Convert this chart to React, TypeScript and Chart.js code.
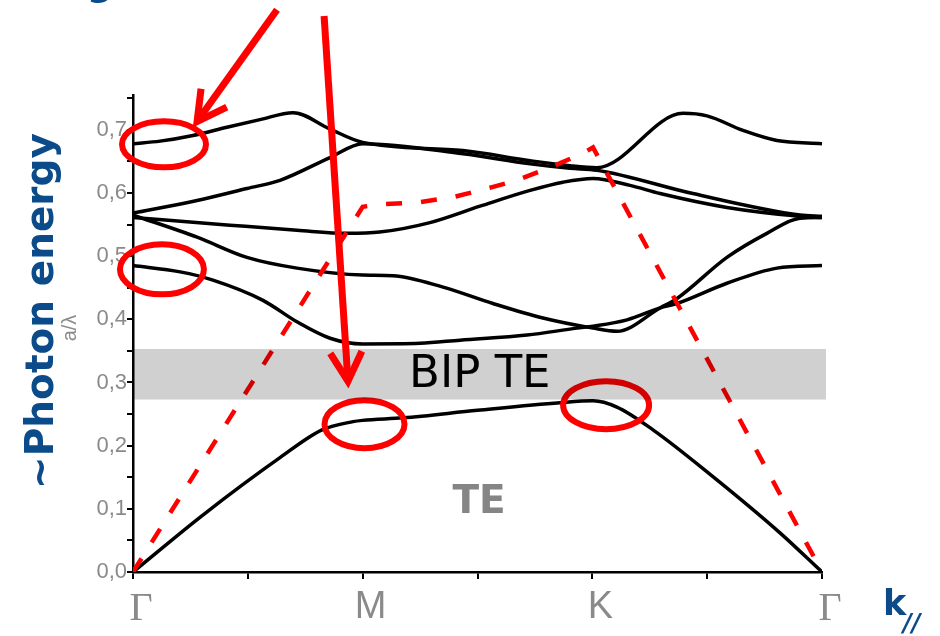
import React, { useEffect, useRef } from 'react';
import { Chart, registerables } from 'chart.js';

Chart.register(...registerables);

// Wave-vector path Γ → M → K → Γ, drawn as three equal segments
const K_TICKS = [0, 0.5, 1, 1.5, 2, 2.5, 3];
const K_LABELS = ['Γ', '', 'M', '', 'K', '', 'Γ'];

// Reduced frequency a/λ
const E_TICKS = [0, 0.05, 0.1, 0.15, 0.2, 0.25, 0.3, 0.35, 0.4, 0.45, 0.5, 0.55, 0.6, 0.65, 0.7, 0.75];
const E_LABELS = ['0,0', '', '0,1', '', '0,2', '', '0,3', '', '0,4', '', '0,5', '', '0,6', '', '0,7', ''];

// TE bands (k position along the path, a/λ)
const band1K = [0, 0.3, 0.64, 0.823, 0.958, 1.0, 1.176, 1.5, 1.859, 2.003, 2.107, 2.264, 2.525, 2.817, 3];
const band1E = [0, 0.089, 0.181, 0.225, 0.238, 0.24, 0.244, 0.256, 0.268, 0.271, 0.261, 0.225, 0.151, 0.062, 0];

const band2K = [0, 0.205, 0.348, 0.566, 0.714, 0.858, 1.0, 1.25, 1.424, 1.716, 1.933, 2.003, 2.151, 2.295, 2.369, 2.586, 2.804, 3];
const band2E = [0.485, 0.475, 0.462, 0.43, 0.396, 0.37, 0.361, 0.362, 0.367, 0.375, 0.386, 0.389, 0.399, 0.418, 0.425, 0.457, 0.481, 0.485];

const band3K = [0, 0.279, 0.496, 0.714, 1.0, 1.132, 1.35, 1.567, 1.785, 2.003, 2.107, 2.295, 2.369, 2.586, 2.76, 2.904, 3];
const band3E = [0.565, 0.53, 0.498, 0.481, 0.47, 0.469, 0.451, 0.425, 0.402, 0.386, 0.381, 0.418, 0.433, 0.498, 0.536, 0.56, 0.561];

const band4K = [0, 0.422, 0.714, 0.932, 1.074, 1.293, 1.511, 1.729, 1.872, 2.003, 2.164, 2.295, 2.586, 2.904, 3];
const band4E = [0.561, 0.549, 0.541, 0.536, 0.538, 0.553, 0.579, 0.604, 0.617, 0.623, 0.612, 0.599, 0.577, 0.563, 0.561];

const band5K = [0, 0.279, 0.496, 0.64, 0.858, 1.0, 1.437, 1.729, 1.903, 2.02, 2.438, 2.904, 3];
const band5E = [0.568, 0.588, 0.607, 0.62, 0.656, 0.678, 0.662, 0.646, 0.639, 0.636, 0.599, 0.565, 0.563];

const band6K = [0, 0.118, 0.261, 0.409, 0.553, 0.697, 0.858, 1.0, 1.437, 1.729, 1.903, 2.02, 2.395, 2.499, 2.656, 2.804, 3];
const band6E = [0.678, 0.682, 0.691, 0.704, 0.716, 0.727, 0.701, 0.68, 0.667, 0.651, 0.643, 0.64, 0.726, 0.722, 0.699, 0.683, 0.678];

// Light line
const lightK = [0, 1, 1.074, 1.24, 1.389, 1.533, 1.672, 1.807, 1.955, 2.003, 3];
const lightE = [0, 0.578, 0.582, 0.585, 0.593, 0.606, 0.62, 0.639, 0.662, 0.672, 0];

// Photonic band gap for TE
const GAP_LOW = 0.273;
const GAP_HIGH = 0.353;

const BLUE = '#0b4b89';
const RED = '#ff0000';
const GREY_TEXT = '#8a8a8a';

// Red highlight rings: centre in (k, a/λ), radii in px
const RINGS = [
  { k: 0.135, e: 0.677, rx: 42, ry: 23 },
  { k: 0.126, e: 0.479, rx: 42, ry: 25 },
  { k: 1.008, e: 0.234, rx: 40, ry: 24 },
  { k: 2.06, e: 0.264, rx: 43, ry: 24 },
];

// Pointer arrows: tail and tip in (k, a/λ)
const ARROWS = [
  { k0: 0.627, e0: 0.89, k1: 0.279, e1: 0.713 },
  { k0: 0.832, e0: 0.88, k1: 0.936, e1: 0.302 },
];

const pts = (ks: number[], es: number[]) => ks.map((k, i) => ({ x: k, y: es[i] }));

const bandStyle = {
  borderColor: '#000',
  borderWidth: 3.5,
  pointRadius: 0,
  cubicInterpolationMode: 'monotone' as const,
  order: 1,
};

const overlay = {
  id: 'bandOverlay',
  afterDatasetsDraw(chart: any) {
    const { ctx, chartArea, scales } = chart;
    const x = scales.x;
    const y = scales.y;
    ctx.save();

    // highlight rings
    ctx.strokeStyle = RED;
    ctx.lineWidth = 6;
    RINGS.forEach((r) => {
      ctx.beginPath();
      ctx.ellipse(x.getPixelForValue(r.k), y.getPixelForValue(r.e), r.rx, r.ry, 0, 0, Math.PI * 2);
      ctx.stroke();
    });

    // band gap shading
    const top = y.getPixelForValue(GAP_HIGH);
    const bot = y.getPixelForValue(GAP_LOW);
    ctx.globalCompositeOperation = 'multiply';
    ctx.fillStyle = '#d0d0d0';
    ctx.fillRect(chartArea.left, top, chartArea.right + 4 - chartArea.left, bot - top);
    ctx.globalCompositeOperation = 'source-over';

    ctx.fillStyle = '#000';
    ctx.font = "45px 'DejaVu Sans'";
    ctx.textAlign = 'center';
    ctx.textBaseline = 'middle';
    ctx.fillText('BIP TE', x.getPixelForValue(1.51), (top + bot) / 2 + 1);

    ctx.fillStyle = '#858585';
    ctx.font = "bold 39px 'DejaVu Sans'";
    ctx.fillText('TE', x.getPixelForValue(1.507), y.getPixelForValue(0.11));

    // arrows
    ctx.strokeStyle = RED;
    ctx.lineWidth = 7;
    ctx.lineCap = 'butt';
    ctx.lineJoin = 'miter';
    ARROWS.forEach((a) => {
      const x0 = x.getPixelForValue(a.k0);
      const y0 = y.getPixelForValue(a.e0);
      const x1 = x.getPixelForValue(a.k1);
      const y1 = y.getPixelForValue(a.e1);
      const ang = Math.atan2(y0 - y1, x0 - x1);
      const len = 33;
      const spread = 0.5;
      ctx.beginPath();
      ctx.moveTo(x0, y0);
      ctx.lineTo(x1, y1);
      ctx.stroke();
      ctx.beginPath();
      ctx.moveTo(x1 + len * Math.cos(ang - spread), y1 + len * Math.sin(ang - spread));
      ctx.lineTo(x1, y1);
      ctx.lineTo(x1 + len * Math.cos(ang + spread), y1 + len * Math.sin(ang + spread));
      ctx.stroke();
    });

    // axis titles
    ctx.fillStyle = BLUE;
    ctx.font = "bold 39px 'DejaVu Sans'";
    ctx.textBaseline = 'alphabetic';
    ctx.save();
    ctx.translate(53, 311);
    ctx.rotate(-Math.PI / 2);
    ctx.textAlign = 'center';
    ctx.fillText('~Photon energy', 0, 0);
    ctx.restore();

    ctx.save();
    ctx.fillStyle = GREY_TEXT;
    ctx.font = "20px 'Liberation Sans'";
    ctx.translate(76, 328);
    ctx.rotate(-Math.PI / 2);
    ctx.textAlign = 'center';
    ctx.fillText('a/λ', 0, 0);
    ctx.restore();

    ctx.fillStyle = BLUE;
    ctx.textAlign = 'left';
    ctx.font = "bold 35px 'DejaVu Sans'";
    ctx.fillText('k', 883, 615);
    ctx.font = "italic bold 24px 'DejaVu Sans'";
    ctx.fillText('//', 903, 631);

    ctx.font = "bold 37px 'DejaVu Sans'";
    ctx.textAlign = 'center';
    ctx.fillText('g', 100, -5);

    ctx.restore();
  },
};

export default function App() {
  const ref = useRef<HTMLCanvasElement | null>(null);

  useEffect(() => {
    const canvas = ref.current;
    if (!canvas) return;
    const chart = new Chart(canvas, {
      type: 'line',
      data: {
        datasets: [
          {
            label: 'light line',
            data: pts(lightK, lightE),
            borderColor: RED,
            borderWidth: 4.5,
            borderDash: [16, 19],
            pointRadius: 0,
            tension: 0,
            order: 0,
          },
          { label: 'band 1', data: pts(band1K, band1E), ...bandStyle },
          { label: 'band 2', data: pts(band2K, band2E), ...bandStyle },
          { label: 'band 3', data: pts(band3K, band3E), ...bandStyle },
          { label: 'band 4', data: pts(band4K, band4E), ...bandStyle },
          { label: 'band 5', data: pts(band5K, band5E), ...bandStyle },
          { label: 'band 6', data: pts(band6K, band6E), ...bandStyle },
        ],
      },
      options: {
        responsive: false,
        animation: false,
        devicePixelRatio: 1,
        layout: { padding: { left: 0, right: 118, top: 95, bottom: 0 } },
        plugins: { legend: { display: false }, tooltip: { enabled: false } },
        scales: {
          x: {
            type: 'linear',
            min: 0,
            max: 3,
            afterBuildTicks: (s: any) => {
              s.ticks = K_TICKS.map((v) => ({ value: v }));
            },
            afterFit: (s: any) => {
              s.height = 64;
            },
            border: { color: '#000', width: 2.5 },
            grid: { drawOnChartArea: false, color: '#000', lineWidth: 2, tickLength: 7 },
            ticks: {
              autoSkip: false,
              maxRotation: 0,
              padding: 6,
              labelOffset: 8,
              color: GREY_TEXT,
              callback: (_v: any, i: number) => K_LABELS[i],
              font: (c: any) =>
                K_LABELS[c.index] === 'Γ'
                  ? { family: "'Liberation Serif'", size: 40 }
                  : { family: "'Liberation Sans'", size: 38 },
            },
          },
          y: {
            type: 'linear',
            min: 0,
            max: 0.755,
            afterBuildTicks: (s: any) => {
              s.ticks = E_TICKS.map((v) => ({ value: v }));
            },
            afterFit: (s: any) => {
              s.width = 133;
            },
            border: { color: '#000', width: 2.5 },
            grid: { drawOnChartArea: false, color: '#000', lineWidth: 2, tickLength: 6 },
            ticks: {
              autoSkip: false,
              padding: 0,
              color: GREY_TEXT,
              callback: (_v: any, i: number) => E_LABELS[i],
              font: { family: "'Liberation Sans'", size: 22 },
            },
          },
        },
      },
      plugins: [overlay],
    });
    return () => chart.destroy();
  }, []);

  return (
    <canvas
      ref={ref}
      width={940}
      height={636}
      style={{ position: 'fixed', left: 0, top: 0, width: 940, height: 636 }}
    />
  );
}
